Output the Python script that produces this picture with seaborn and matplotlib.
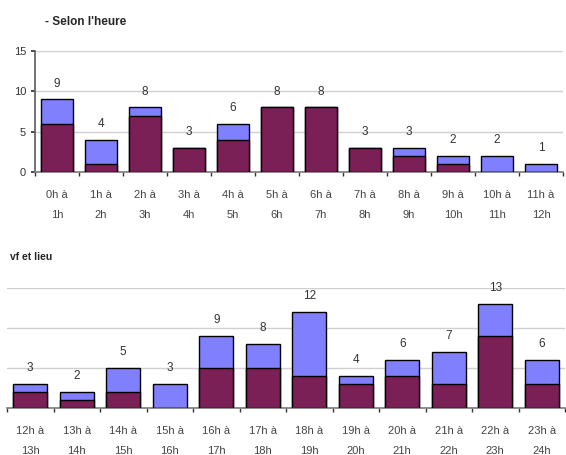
import matplotlib
matplotlib.use("Agg")
import matplotlib.pyplot as plt
import seaborn as sns
import numpy as np
import pandas as pd

sns.set_theme(style="white")
plt.rcParams['font.family'] = ['Liberation Sans', 'DejaVu Sans']

# Data
labels_top = ["0h à\n1h", "1h à\n2h", "2h à\n3h", "3h à\n4h", "4h à\n5h", "5h à\n6h",
              "6h à\n7h", "7h à\n8h", "8h à\n9h", "9h à\n10h", "10h à\n11h", "11h à\n12h"]
dark_top = [6, 1, 7, 3, 4, 8, 8, 3, 2, 1, 0, 0]
total_top = [9, 4, 8, 3, 6, 8, 8, 3, 3, 2, 2, 1]

labels_bot = ["12h à\n13h", "13h à\n14h", "14h à\n15h", "15h à\n16h", "16h à\n17h", "17h à\n18h",
              "18h à\n19h", "19h à\n20h", "20h à\n21h", "21h à\n22h", "22h à\n23h", "23h à\n24h"]
dark_bot = [2, 1, 2, 0, 5, 5, 4, 3, 4, 3, 9, 3]
total_bot = [3, 2, 5, 3, 9, 8, 12, 4, 6, 7, 13, 6]

yticks = [0, 5, 10, 15]
title_top = "- Selon l'heure"
title_bot = "vf et lieu"

DARK = "#7B1F57"
LIGHT = "#8080FF"

fig = plt.figure(figsize=(5.66, 4.55), dpi=100)
W, H = 566, 455
ax1 = fig.add_axes([35 / W, 1 - 172 / H, (563 - 35) / W, (172 - 51) / H])
ax2 = fig.add_axes([7 / W, 1 - 408 / H, (565 - 7) / W, (408 - 288) / H])


def draw(ax, labels, dark, total, show_y):
    df = pd.DataFrame({"cat": labels, "dark": dark, "total": total})
    sns.barplot(data=df, x="cat", y="total", color=LIGHT, saturation=1, width=0.74,
                edgecolor="black", linewidth=1, ax=ax, zorder=3)
    sns.barplot(data=df, x="cat", y="dark", color=DARK, saturation=1, width=0.74,
                edgecolor="black", linewidth=1, ax=ax, zorder=4)
    for i, t in enumerate(total):
        ax.text(i, t + 1.2, str(t), ha="center", va="bottom", fontsize=8.5, color="#333333")
    ax.set_ylim(0, 15)
    ax.set_xlim(-0.5, len(labels) - 0.5)
    ax.set_yticks(yticks)
    ax.yaxis.grid(True, color="#d0d0d0", linewidth=1)
    ax.set_axisbelow(True)
    ax.set_xlabel("")
    ax.set_ylabel("")
    for s in ["top", "right"]:
        ax.spines[s].set_visible(False)
    ax.spines["bottom"].set_color("#808080")
    ax.tick_params(axis="x", length=0, labelsize=8, pad=13, labelcolor="#444444")
    ax.set_xticks(np.arange(-0.5, len(labels) + 0.5, 1), minor=True)
    ax.tick_params(axis="x", which="minor", length=3, color="#333333", bottom=True)
    if show_y:
        ax.spines["left"].set_color("#606060")
        ax.tick_params(axis="y", length=3, labelsize=8, left=True, color="#333333",
                       labelcolor="#333333")
    else:
        ax.spines["left"].set_visible(False)
        ax.set_yticklabels([])
        ax.tick_params(axis="y", length=0)
    for t in ax.get_xticklabels():
        t.set_linespacing(2.3)


draw(ax1, labels_top, dark_top, total_top, True)
draw(ax2, labels_bot, dark_bot, total_bot, False)

fig.text(45 / W, 1 - 22 / H, title_top, fontsize=8.5, fontweight="bold", va="center", ha="left")
fig.text(10 / W, 1 - 257 / H, title_bot, fontsize=7.5, fontweight="bold", va="center", ha="left")

fig.savefig("out.png", dpi=100)
